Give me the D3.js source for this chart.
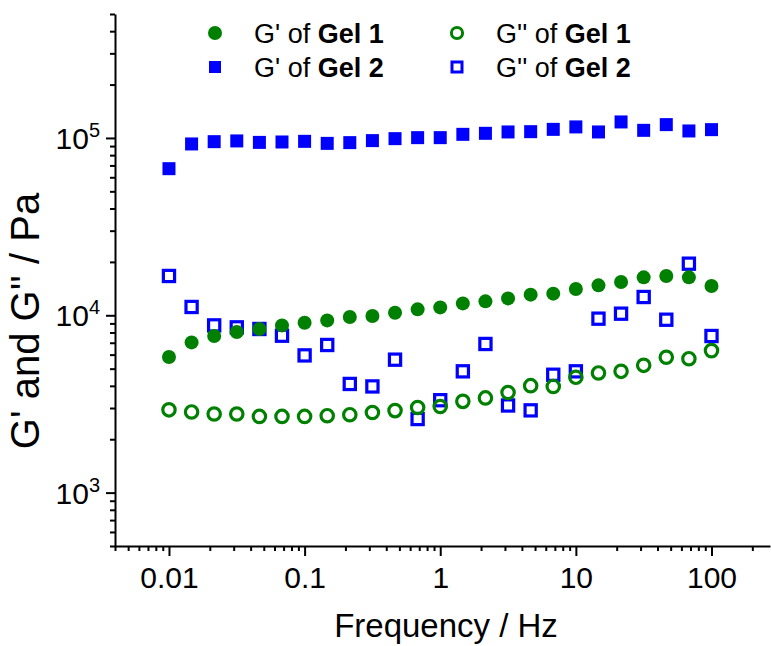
<!DOCTYPE html>
<html>
<head>
<meta charset="utf-8">
<script src="https://cdn.jsdelivr.net/npm/d3@7"></script>
<style>
  body { margin: 0; background: #fff; }
  text { font-family: "Liberation Sans", Arial, sans-serif; fill: #000; }
</style>
</head>
<body>
<script>
// frequencies (Hz), 6 points per decade
const freq = [0.01, 0.01468, 0.02154, 0.03162, 0.04642, 0.06813,
  0.1, 0.1468, 0.2154, 0.3162, 0.4642, 0.6813,
  1, 1.468, 2.154, 3.162, 4.642, 6.813,
  10, 14.68, 21.54, 31.62, 46.42, 68.13, 100];

// G' of Gel 1 (Pa)
const gp1 = [5820, 7030, 7640, 8050, 8370, 8770, 9080, 9360, 9780, 9910, 10340, 10800,
  11080, 11670, 11980, 12450, 13070, 13240, 14070, 14750, 15410, 16360, 16660, 16360, 14630];
// G'' of Gel 1 (Pa)
const gpp1 = [2930, 2850, 2775, 2775, 2690, 2690, 2690, 2715, 2750, 2830, 2900, 3020,
  3060, 3270, 3420, 3670, 4010, 3970, 4470, 4730, 4830, 5220, 5800, 5690, 6320];
// G' of Gel 2 (Pa)
const gp2 = [67100, 92500, 95300, 96200, 94400, 94900, 95700, 93200, 94100, 96600, 99100, 100400,
  100400, 104800, 106200, 108100, 108500, 111800, 115400, 108100, 123100, 110400, 118900, 109500, 111400];
// G'' of Gel 2 (Pa)
const gpp2 = [16660, 11140, 8770, 8550, 8370, 7670, 5940, 6800, 4100, 3970, 5620, 2600,
  3320, 4830, 6890, 3100, 2910, 4620, 4830, 9570, 10210, 12680, 9440, 19540, 7640];

const xMajor = [0.01, 0.1, 1, 10, 100];
const xMajorLabels = ["0.01", "0.1", "1", "10", "100"];
const yMajor = [1e3, 1e4, 1e5];
const yMajorExp = ["3", "4", "5"];

const width = 771;
const height = 646;
const green = "#008000";
const blue = "#0000ff";
const font = '"Liberation Sans", Arial, sans-serif';

let svg = d3.select('body').append('svg')
  .attr('width', width)
  .attr('height', height);

const x = d3.scaleLog().domain([0.004, 270]).range([115, 770]);
const y = d3.scaleLog().domain([500, 5e5]).range([546, 14]);

const isMajor = (v, list) => list.some(m => Math.abs(v / m - 1) < 1e-6);
const xMinor = x.ticks().filter(v => !isMajor(v, xMajor));
const yMinor = y.ticks().filter(v => !isMajor(v, yMajor));

// x axis: minor ticks, then major ticks with labels
svg.append('g')
  .attr('transform', `translate(0,546)`)
  .call(d3.axisBottom(x).tickValues(xMinor).tickSize(5).tickFormat(''))
  .call(g => g.select('.domain').remove());

let xa = svg.append('g')
  .attr('transform', `translate(0,546)`)
  .call(d3.axisBottom(x).tickValues(xMajor).tickSize(10).tickSizeOuter(0)
    .tickFormat((d, i) => xMajorLabels[i]));
xa.selectAll('text')
  .attr('y', 42)
  .attr('dy', 0)
  .style('font-size', '30px')
  .style('font-family', font);

// y axis
svg.append('g')
  .attr('transform', `translate(115,0)`)
  .call(d3.axisLeft(y).tickValues(yMinor).tickSize(5).tickFormat(''))
  .call(g => g.select('.domain').remove());

let ya = svg.append('g')
  .attr('transform', `translate(115,0)`)
  .call(d3.axisLeft(y).tickValues(yMajor).tickSize(9).tickSizeOuter(0).tickFormat(''));

svg.selectAll('.tick line, .domain')
  .attr('stroke', '#000')
  .attr('stroke-width', 2);

ya.selectAll('.tick').each(function (d, i) {
  let t = d3.select(this).append('text')
    .attr('x', -15)
    .attr('y', 10.5)
    .attr('text-anchor', 'end')
    .style('font-size', '30px')
    .style('font-family', font)
    .attr('fill', '#000');
  t.append('tspan').text('10');
  t.append('tspan').attr('dy', -12).style('font-size', '20px').text(yMajorExp[i]);
});

// axis titles
svg.append('text')
  .attr('x', 446)
  .attr('y', 637)
  .attr('text-anchor', 'middle')
  .style('font-size', '33px')
  .text('Frequency / Hz');

svg.append('text')
  .attr('transform', 'translate(39,321) rotate(-90)')
  .attr('text-anchor', 'middle')
  .style('font-size', '40px')
  .text("G' and G'' / Pa");

// markers
const filledSquare = (g, vals, color) => g.selectAll('rect').data(vals).enter().append('rect')
  .attr('x', (d, i) => x(freq[i]) - 6.5)
  .attr('y', d => y(d) - 6.5)
  .attr('width', 13).attr('height', 13)
  .attr('fill', color);

const openSquare = (g, vals, color) => g.selectAll('rect').data(vals).enter().append('rect')
  .attr('x', (d, i) => x(freq[i]) - 5.6)
  .attr('y', d => y(d) - 5.6)
  .attr('width', 11.2).attr('height', 11.2)
  .attr('fill', 'none').attr('stroke', color).attr('stroke-width', 3.2);

const filledCircle = (g, vals, color) => g.selectAll('circle').data(vals).enter().append('circle')
  .attr('cx', (d, i) => x(freq[i]))
  .attr('cy', d => y(d))
  .attr('r', 7)
  .attr('fill', color);

const openCircle = (g, vals, color) => g.selectAll('circle').data(vals).enter().append('circle')
  .attr('cx', (d, i) => x(freq[i]))
  .attr('cy', d => y(d))
  .attr('r', 6.2)
  .attr('fill', 'none').attr('stroke', color).attr('stroke-width', 3.2);

openSquare(svg.append('g'), gpp2, blue);
filledSquare(svg.append('g'), gp2, blue);
filledCircle(svg.append('g'), gp1, green);
openCircle(svg.append('g'), gpp1, green);

// legend
const legendItems = [
  { kind: 'fc', pre: "G' of ", bold: 'Gel 1', col: 0, row: 0 },
  { kind: 'oc', pre: "G'' of ", bold: 'Gel 1', col: 1, row: 0 },
  { kind: 'fs', pre: "G' of ", bold: 'Gel 2', col: 0, row: 1 },
  { kind: 'os', pre: "G'' of ", bold: 'Gel 2', col: 1, row: 1 }
];
const colX = [215, 457];
const rowY = [33, 67];

legendItems.forEach(it => {
  const cx = colX[it.col], cy = rowY[it.row];
  let g = svg.append('g');
  if (it.kind === 'fc') g.append('circle').attr('cx', cx).attr('cy', cy).attr('r', 7).attr('fill', green);
  if (it.kind === 'oc') g.append('circle').attr('cx', cx).attr('cy', cy).attr('r', 5.6)
    .attr('fill', 'none').attr('stroke', green).attr('stroke-width', 3);
  if (it.kind === 'fs') g.append('rect').attr('x', cx - 6).attr('y', cy - 6).attr('width', 12).attr('height', 12).attr('fill', blue);
  if (it.kind === 'os') g.append('rect').attr('x', cx - 5).attr('y', cy - 5).attr('width', 10).attr('height', 10)
    .attr('fill', 'none').attr('stroke', blue).attr('stroke-width', 3);
  let t = g.append('text')
    .attr('x', cx + 39)
    .attr('y', cy + 9.5)
    .style('font-size', '27px');
  t.append('tspan').text(it.pre);
  t.append('tspan').style('font-weight', 'bold').text(it.bold);
});
</script>
</body>
</html>
